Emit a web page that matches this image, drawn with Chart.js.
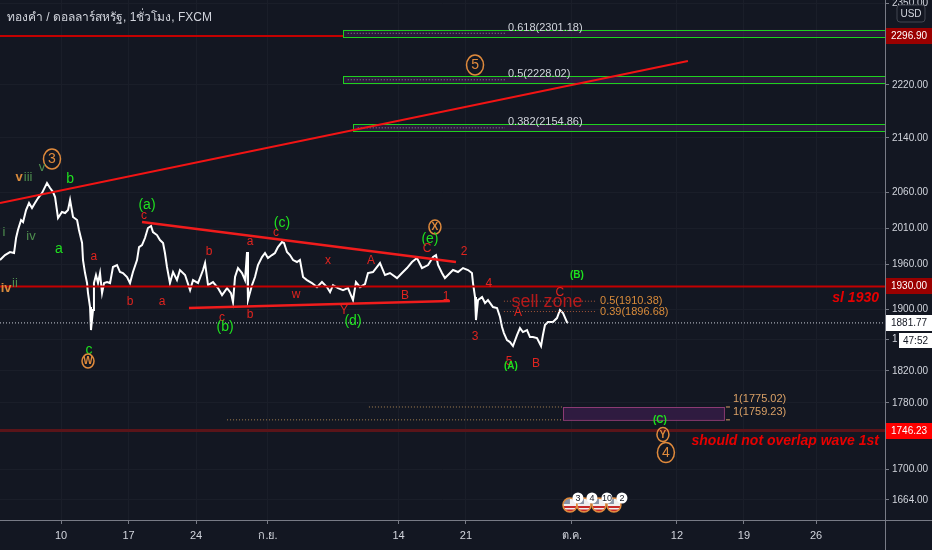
<!DOCTYPE html>
<html><head><meta charset="utf-8">
<script src="https://cdn.jsdelivr.net/npm/chart.js@4.4.1/dist/chart.umd.min.js"></script>
<style>html,body{margin:0;padding:0;background:#131722;overflow:hidden}canvas{display:block}</style>
</head><body>
<canvas id="c" width="932" height="550"></canvas>
<script>
// ---------- DATA ----------
// trading-day index (0 = Mon 10 Aug, 1-hour chart), price (USD, log axis)
const priceDays = [
-4.52,-4.15,-3.78,-3.48,-3.33,-3.19,-2.96,-2.81,-2.59,-2.37,
-2.15,-1.93,-1.70,-1.41,-1.19,-1.04,-0.81,-0.59,-0.44,-0.22,
0.07,0.30,0.52,0.67,0.89,1.19,1.33,1.56,1.63,1.78,
1.93,2.00,2.15,2.22,2.37,2.44,2.59,2.74,2.89,3.04,
3.19,3.41,3.63,3.85,4.15,4.37,4.59,4.89,5.11,5.33,
5.63,5.78,6.00,6.22,6.44,6.67,6.81,7.11,7.33,7.56,
7.70,7.85,8.07,8.30,8.59,8.81,9.19,9.56,9.78,10.15,
10.52,10.67,10.89,11.26,11.63,11.93,12.30,12.59,12.74,12.89,
13.11,13.41,13.63,13.78,13.85,14.15,14.37,14.59,14.89,15.11,
15.33,15.63,15.85,16.07,16.37,16.52,16.74,16.96,17.19,17.48,
17.70,17.93,18.22,18.59,18.96,19.33,19.70,19.93,20.15,20.52,
20.89,21.26,21.63,21.85,22.15,22.52,22.74,23.11,23.63,24.00,
24.37,24.89,25.26,25.63,26.00,26.37,26.74,27.19,27.56,27.78,
27.93,28.22,28.44,28.67,29.04,29.41,29.78,30.15,30.44,30.52,
30.67,30.74,30.89,31.19,31.41,31.63,32.00,32.30,32.52,32.67,
32.81,33.04,33.26,33.48,33.78,34.00,34.22,34.52,34.74,34.96,
35.26,35.56,35.70,35.85,36.07,36.44,36.74,36.96,37.19,37.48,
37.56];
const priceValues = [
1965.8,1972.6,1976.7,1975.4,1996.1,2007.2,2021.2,2018.4,2035.3,2045.2,
2038.1,2045.2,2052.3,2059.4,2068.0,2073.8,2066.6,2060.8,2053.8,2024.0,
2032.5,2031.1,2035.3,2049.5,2025.4,2021.2,2007.2,1989.2,1965.8,1948.1,
1934.6,1921.2,1902.7,1872.5,1898.7,1934.6,1945.4,1934.6,1948.1,1921.2,
1934.6,1936.0,1934.6,1956.3,1959.0,1949.5,1948.1,1942.7,1934.6,1949.5,
1965.8,1983.6,1986.4,1996.1,2010.0,2012.8,2004.4,2000.2,1993.3,1989.2,
1975.4,1956.3,1934.6,1949.5,1938.6,1952.2,1945.4,1925.2,1938.6,1934.6,
1952.2,1961.7,1931.9,1936.0,1927.9,1918.5,1927.9,1921.2,1909.2,1942.7,
1954.9,1948.1,1938.6,1976.7,1911.9,1931.9,1942.7,1959.0,1969.9,1975.4,
1968.5,1972.6,1975.4,1983.6,1990.5,1989.2,1976.7,1972.6,1965.8,1963.1,
1965.8,1942.7,1938.6,1934.6,1929.2,1936.0,1929.2,1922.5,1931.9,1927.9,
1925.2,1927.9,1911.9,1936.0,1929.2,1933.2,1948.1,1949.5,1961.7,1945.4,
1948.1,1941.3,1948.1,1954.9,1963.1,1968.5,1954.9,1959.0,1969.9,1972.6,
1959.0,1948.1,1941.3,1945.4,1952.2,1949.5,1954.9,1952.2,1948.1,1934.6,
1915.8,1885.5,1911.9,1915.8,1907.9,1911.9,1902.7,1901.3,1889.5,1876.4,
1868.6,1859.5,1856.9,1851.8,1866.0,1875.1,1869.9,1872.5,1863.4,1863.4,
1862.1,1851.8,1866.0,1879.0,1882.9,1882.9,1888.1,1898.7,1894.7,1882.9,
1881.77];

const xTickDays   = [0, 5, 10, 15.33, 25, 30, 37.85, 45.63, 50.59, 55.93];
const xTickLabels = ['10','17','24','ก.ย.','14','21','ต.ค.','12','19','26'];
const yTickValues = [2350,2220,2140,2060,2010,1960,1900,1860,1820,1780,1700,1664];

const X_MIN = -4.52, X_MAX = 61.04, Y_MIN = 1641, Y_MAX = 2355;

const lastPrice = 1881.77, stopLoss = 1930, wave1Level = 1746.23, topLevel = 2296.90;
const countdown = '47:52';

// drawing tools (day, price)
const trendUp  = [[-4.52, 2045.2], [46.44, 2257.3]];
const triUpper = [[6.00, 2018.4], [29.26, 1963.0]];
const triLower = [[9.48, 1901.4], [28.81, 1910.6]];

const fibRatios = ['0.618', '0.5', '0.382'];
const fibPrices = [2301.18, 2228.02, 2154.86];
const fibStartDays = [20.89, 20.89, 21.63];
const fibLabelDay = 33.11;

const sellRatios = ['0.5', '0.39'];
const sellPrices = [1910.38, 1896.68];
const sellFromDay = 32.81, sellToDay = 39.63, sellLabelDay = 39.93;

const targetPrices = [1775.02, 1759.23];
const targetFromDays = [22.81, 12.30];
const targetBoxDays = [37.19, 49.11];
const targetLabelDay = 49.78;

const eventDays = [37.7, 38.74, 39.85, 40.96];
const eventCounts = ['3', '4', '10', '2'];

// wave labels: [day, price, text, kind]
const waveLabels = [
[-0.67,2108.7,'3','OC'],[-1.41,2097.0,'v','dg'],[-3.11,2082.5,'v','o'],[-2.44,2082.5,'iii','dg'],
[0.67,2079.5,'b','g1'],[-4.22,2004.4,'i','dg'],[-2.22,1998.9,'iv','dg'],[-0.15,1980.9,'a','g1'],
[2.44,1971.3,'a','r'],[6.37,2042.4,'(a)','g'],[6.15,2028.2,'c','r'],[-4.07,1927.9,'iv','o'],
[-3.41,1934.6,'ii','dg'],[5.11,1910.5,'b','r'],[7.48,1910.5,'a','r'],[2.07,1846.6,'c','g1'],
[2.0,1832.5,'W','oc'],[10.96,1978.1,'b','r'],[14.0,1991.9,'a','r'],[15.93,2004.4,'c','r'],
[16.37,2017.0,'(c)','g'],[19.78,1965.8,'x','r'],[17.41,1919.8,'w','r'],[11.93,1889.5,'c','r'],
[12.15,1876.4,'(b)','g'],[14.0,1893.4,'b','r'],[20.96,1898.7,'Y','r'],[21.63,1884.2,'(d)','g'],
[22.96,1965.8,'A','r'],[27.7,2011.4,'X','oc'],[27.33,1994.7,'(e)','g'],[27.11,1982.3,'C','r'],
[29.85,1978.1,'2','r'],[31.7,1934.6,'4','r'],[25.48,1918.5,'B','r'],[28.52,1917.2,'1','r'],
[30.67,1864.7,'3','r'],[38.22,1945.4,'(B)','gs'],[36.96,1922.5,'C','r'],[33.85,1896.1,'A','r'],
[33.19,1832.5,'5','r'],[33.33,1826.1,'(A)','gs'],[35.19,1830.0,'B','r'],[30.67,2251.0,'5','OC'],
[44.37,1758.9,'(C)','gs'],[44.59,1741.4,'Y','oc'],[44.81,1719.7,'4','OC']
];

// ---------- STYLE ----------
const FONT = "'Liberation Sans','DejaVu Sans','Noto Sans',sans-serif";
const TXT = '#d1d4dc', BG = '#131722', AXIS = '#787b86';
const labelStyles = {
  r:  {color:'#e0241f', font:'12px '+FONT},
  g:  {color:'#1fe01f', font:'14px '+FONT},
  g1: {color:'#1fe01f', font:'14px '+FONT},
  gs: {color:'#1fe01f', font:'bold 10px '+FONT},
  dg: {color:'#4f8f4f', font:'13px '+FONT},
  o:  {color:'#d88a3c', font:'bold 13px '+FONT},
  OC: {color:'#e08a3c', font:'14px '+FONT, rx:8.5, ry:10},
  oc: {color:'#e08a3c', font:'bold 10px '+FONT, rx:6, ry:7}
};

function seg(points, color, width, dash) {
  return {data: points.map(p => ({x:p[0], y:p[1]})), borderColor: color, borderWidth: width,
    borderDash: dash || [], pointRadius: 0, tension: 0, fill: false, order: 1};
}
const dotted = [1, 2];
const datasets = [
  seg(trendUp, '#f21414', 2),
  seg(triUpper, '#f01c1c', 2.5),
  seg(triLower, '#f01c1c', 2.5),
  seg([[X_MIN, stopLoss],[X_MAX, stopLoss]], '#c40000', 2),
  seg([[X_MIN, topLevel],[fibStartDays[0], topLevel]], '#c40000', 2),
  seg([[X_MIN, wave1Level],[X_MAX, wave1Level]], '#5a1419', 3),
  seg([[X_MIN, lastPrice],[X_MAX, lastPrice]], '#c8ccd6', 1, dotted),
  ...sellPrices.map(p => seg([[sellFromDay, p],[sellToDay, p]], '#a8583a', 1, dotted)),
  ...targetPrices.map((p, i) => seg([[targetFromDays[i], p],[targetBoxDays[0], p]], '#a68253', 1, dotted)),
  ...fibPrices.map((p, i) => seg([[fibStartDays[i] + 0.35, p],[fibLabelDay - 0.22, p]], '#8f939c', 1, dotted)),
  {data: priceDays.map((d, i) => ({x:d, y:priceValues[i]})), borderColor:'#ffffff', borderWidth:2,
   pointRadius:0, tension:0, fill:false, order:10}
];

function box(ctx, x, y, w, h, fill, text, textColor) {
  ctx.fillStyle = fill; ctx.fillRect(x, y, w, h);
  ctx.fillStyle = textColor; ctx.font = '10px ' + FONT;
  ctx.textAlign = 'left'; ctx.textBaseline = 'middle';
  ctx.fillText(text, x + 5, y + h / 2 + 0.5);
}

const overlay = {
  id: 'overlay',
  beforeDatasetsDraw(chart) {
    const {ctx, chartArea: a, scales: {x, y}} = chart;
    ctx.save();
    ctx.beginPath(); ctx.rect(a.left, a.top, a.right - a.left, a.bottom - a.top); ctx.clip();
    fibPrices.forEach((p, i) => {
      const x0 = x.getPixelForValue(fibStartDays[i]), yc = y.getPixelForValue(p);
      ctx.fillStyle = 'rgba(95,35,120,0.30)';
      ctx.fillRect(x0, yc - 3.5, a.right - x0 + 2, 7);
      ctx.strokeStyle = '#1fd11f'; ctx.lineWidth = 1;
      ctx.strokeRect(Math.round(x0) + 0.5, Math.round(yc - 3.5) + 0.5, a.right - x0 + 4, 7);
    });
    const bx0 = x.getPixelForValue(targetBoxDays[0]), bx1 = x.getPixelForValue(targetBoxDays[1]);
    const by0 = y.getPixelForValue(targetPrices[0]), by1 = y.getPixelForValue(targetPrices[1]);
    ctx.fillStyle = '#2f1b40'; ctx.fillRect(bx0, by0, bx1 - bx0, by1 - by0);
    ctx.strokeStyle = '#8c3b73'; ctx.lineWidth = 1;
    ctx.strokeRect(Math.round(bx0) + 0.5, Math.round(by0) + 0.5, bx1 - bx0, by1 - by0);
    ctx.restore();
  },
  afterDatasetsDraw(chart) {
    const {ctx, chartArea: a, scales: {x, y}} = chart;
    ctx.save();
    ctx.beginPath(); ctx.rect(a.left, a.top, a.right - a.left, a.bottom - a.top); ctx.clip();
    ctx.font = '11px ' + FONT; ctx.fillStyle = TXT; ctx.textAlign = 'left'; ctx.textBaseline = 'alphabetic';
    fibPrices.forEach((p, i) => {
      ctx.fillText(fibRatios[i] + '(' + p.toFixed(2) + ')', x.getPixelForValue(fibLabelDay), y.getPixelForValue(p) - 2.5);
    });
    ctx.font = '11px ' + FONT; ctx.fillStyle = '#d98b3a'; ctx.textBaseline = 'middle';
    sellPrices.forEach((p, i) => {
      ctx.fillText(sellRatios[i] + '(' + p.toFixed(2) + ')', x.getPixelForValue(sellLabelDay), y.getPixelForValue(p));
    });
    ctx.fillStyle = '#d9a066';
    targetPrices.forEach(p => {
      ctx.fillText('1(' + p.toFixed(2) + ')', x.getPixelForValue(targetLabelDay), y.getPixelForValue(p) - 8);
      const tx = x.getPixelForValue(targetBoxDays[1]) + 2, ty = y.getPixelForValue(p);
      ctx.fillRect(tx, ty - 0.5, 4, 1);
    });
    ctx.font = '18px ' + FONT; ctx.fillStyle = 'rgba(200,25,25,0.9)'; ctx.textAlign = 'center';
    ctx.fillText('sell zone', x.getPixelForValue(36.0), y.getPixelForValue(1909.2));
    waveLabels.forEach(([d, p, t, k]) => {
      const s = labelStyles[k], px = x.getPixelForValue(d), py = y.getPixelForValue(p);
      if (s.rx) {
        ctx.beginPath(); ctx.ellipse(px, py, s.rx, s.ry, 0, 0, Math.PI * 2);
        ctx.strokeStyle = s.color; ctx.lineWidth = 1.5; ctx.stroke();
      }
      ctx.font = s.font; ctx.fillStyle = s.color; ctx.textAlign = 'center'; ctx.textBaseline = 'middle';
      ctx.fillText(t, px, py + 0.5);
    });
    ctx.font = 'italic bold 14px ' + FONT; ctx.fillStyle = '#e60000'; ctx.textAlign = 'right';
    ctx.fillText('sl 1930', a.right - 6, y.getPixelForValue(stopLoss) + 12);
    ctx.fillText('should not overlap wave 1st', a.right - 6, y.getPixelForValue(wave1Level) + 11);
    eventDays.forEach((d, i) => {
      const cx = x.getPixelForValue(d), cy = a.bottom - 15;
      ctx.save();
      ctx.beginPath(); ctx.arc(cx, cy, 7, 0, Math.PI * 2); ctx.fillStyle = '#eeeeee'; ctx.fill();
      ctx.clip();
      ctx.fillStyle = '#c62828'; ctx.fillRect(cx - 8, cy + 1, 16, 2); ctx.fillRect(cx - 8, cy + 4.5, 16, 2);
      ctx.fillStyle = '#8a93a6'; ctx.fillRect(cx - 8, cy - 8, 8, 7);
      ctx.restore();
      ctx.beginPath(); ctx.arc(cx, cy, 7, 0, Math.PI * 2); ctx.strokeStyle = '#e08a3c'; ctx.lineWidth = 1.5; ctx.stroke();
    });
    eventDays.forEach((d, i) => {
      const cx = x.getPixelForValue(d) + 8, cy = a.bottom - 22;
      ctx.beginPath(); ctx.arc(cx, cy, 5.5, 0, Math.PI * 2); ctx.fillStyle = '#ffffff'; ctx.fill();
      ctx.font = '9px ' + FONT; ctx.fillStyle = '#131722'; ctx.textAlign = 'center'; ctx.textBaseline = 'middle';
      ctx.fillText(eventCounts[i], cx, cy + 0.5);
    });
    ctx.restore();
  },
  afterDraw(chart) {
    const {ctx, chartArea: a, scales: {y}} = chart;
    ctx.save();
    ctx.strokeStyle = AXIS; ctx.lineWidth = 1;
    ctx.beginPath(); ctx.moveTo(a.right + 0.5, a.bottom); ctx.lineTo(a.right + 0.5, 550);
    ctx.moveTo(a.right, a.bottom + 0.5); ctx.lineTo(932, a.bottom + 0.5); ctx.stroke();
    const bw = 932 - a.right - 1, bx = a.right + 1;
    box(ctx, bx, Math.round(y.getPixelForValue(topLevel)) - 8, bw, 16, '#9a0000', topLevel.toFixed(2), '#ffffff');
    box(ctx, bx, Math.round(y.getPixelForValue(stopLoss)) - 8, bw, 16, '#9a0000', stopLoss.toFixed(2), '#ffffff');
    box(ctx, bx, Math.round(y.getPixelForValue(lastPrice)) - 8, bw, 16, '#ffffff', lastPrice.toFixed(2), '#131722');
    const cyb = Math.round(y.getPixelForValue(lastPrice)) + 9;
    ctx.fillStyle = '#131722'; ctx.fillRect(a.right + 13, cyb, 932 - a.right - 13, 17);
    ctx.fillStyle = '#ffffff'; ctx.fillRect(a.right + 14, cyb + 1, 932 - a.right - 14, 15);
    ctx.fillStyle = '#131722'; ctx.font = '10px ' + FONT; ctx.textAlign = 'left'; ctx.textBaseline = 'middle';
    ctx.fillText(countdown, a.right + 18, cyb + 9);
    box(ctx, bx, Math.round(y.getPixelForValue(wave1Level)) - 8, bw, 16, '#ff0000', wave1Level.toFixed(2), '#ffffff');
    const ux = 897, uy = 5, uw = 28, uh = 17, r = 3;
    ctx.beginPath();
    ctx.moveTo(ux + r, uy); ctx.lineTo(ux + uw - r, uy); ctx.quadraticCurveTo(ux + uw, uy, ux + uw, uy + r);
    ctx.lineTo(ux + uw, uy + uh - r); ctx.quadraticCurveTo(ux + uw, uy + uh, ux + uw - r, uy + uh);
    ctx.lineTo(ux + r, uy + uh); ctx.quadraticCurveTo(ux, uy + uh, ux, uy + uh - r);
    ctx.lineTo(ux, uy + r); ctx.quadraticCurveTo(ux, uy, ux + r, uy); ctx.closePath();
    ctx.fillStyle = BG; ctx.fill(); ctx.strokeStyle = '#434651'; ctx.lineWidth = 1; ctx.stroke();
    ctx.fillStyle = TXT; ctx.font = '10px ' + FONT; ctx.textAlign = 'center';
    ctx.fillText('USD', ux + uw / 2, uy + uh / 2 + 0.5);
    ctx.fillStyle = TXT; ctx.font = '12px ' + FONT; ctx.textAlign = 'left'; ctx.textBaseline = 'middle';
    ctx.fillText('ทองคำ / ดอลลาร์สหรัฐ, 1ชั่วโมง, FXCM', 7, 18);
    ctx.restore();
  }
};

new Chart(document.getElementById('c'), {
  type: 'line',
  data: {datasets},
  options: {
    responsive: false, animation: false, devicePixelRatio: 1, events: [],
    layout: {padding: 0},
    plugins: {legend: {display: false}, tooltip: {enabled: false}},
    scales: {
      x: {
        type: 'linear', position: 'bottom', min: X_MIN, max: X_MAX, bounds: 'data',
        afterBuildTicks: s => { s.ticks = xTickDays.map(v => ({value: v})); },
        afterFit: s => { s.height = 30; s.paddingLeft = 0; s.paddingRight = 0; },
        ticks: {autoSkip: false, maxRotation: 0, color: TXT, font: {size: 11, family: FONT}, padding: 5,
                callback: (v, i) => xTickLabels[i]},
        grid: {color: '#1a1e29', tickColor: AXIS, tickLength: 4},
        border: {display: true, color: AXIS}
      },
      y: {
        type: 'logarithmic', position: 'right', min: Y_MIN, max: Y_MAX, bounds: 'data',
        afterBuildTicks: s => { s.ticks = yTickValues.map(v => ({value: v})); },
        afterFit: s => { s.width = 47; s.paddingTop = 0; s.paddingBottom = 0; },
        ticks: {autoSkip: false, color: TXT, font: {size: 10, family: FONT}, padding: 3,
                callback: v => Number(v).toFixed(2)},
        grid: {color: '#1a1e29', tickColor: AXIS, tickLength: 4},
        border: {display: true, color: AXIS}
      }
    }
  },
  plugins: [overlay]
});
</script>
</body></html>
